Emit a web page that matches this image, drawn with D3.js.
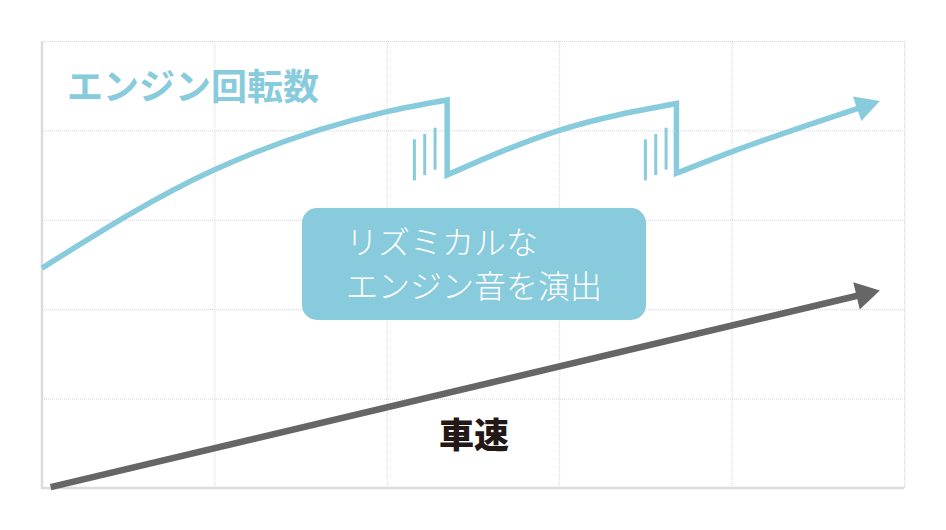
<!doctype html>
<html>
<head>
  <meta charset="utf8">
  <title>engine</title>
  <style>
    body {
      margin: 0;
      padding: 0;
      background: #fff;
    }
    svg { display: block; }
    text { font-family: "Noto Sans CJK JP", "Noto Sans", sans-serif; }
  </style>
</head>
<body>
  <svg></svg>

  <script src="https://d3js.org/d3.v7.min.js"></script>
  <script>
    // grid units: 5 columns x 5 rows
    const gridTicks = [0, 1, 2, 3, 4, 5]

    // engine revs, three pulls between gear shifts
    const engineGear1 = [[0, 2.46], [1.0, 3.56], [2.0, 4.21], [2.35, 4.34]]
    const engineGear2 = [[2.35, 3.5], [2.7, 3.79], [3.0, 4.0], [3.68, 4.3]]
    const engineGear3 = [[3.68, 3.52], [4.0, 3.76], [4.86, 4.33]]

    // vehicle speed, a straight climb
    const speed = [[0.05, 0.01], [4.86, 2.21]]

    // the little "shift" strokes next to each drop: [x, yBottom, yTop]
    const shiftMarks = [
      [2.16, 3.44, 3.9], [2.22, 3.5, 3.96], [2.28, 3.56, 4.03],
      [3.5, 3.44, 3.9], [3.56, 3.5, 3.96], [3.62, 3.56, 4.03]
    ]

    const titleLabel = 'エンジン回転数'
    const speedLabel = '車速'
    const noteLines = ['リズミカルな', 'エンジン音を演出']

    const width = 946
    const height = 530
    const margin = { top: 41, right: 42, bottom: 42, left: 42 }
    const blue = '#88cbdc'
    const grey = '#666666'

    const svg = d3.select('svg')
      .attr('width', width)
      .attr('height', height)

    const x = d3.scaleLinear().domain([0, 5]).range([margin.left, width - margin.right])
    const y = d3.scaleLinear().domain([0, 5]).range([height - margin.bottom, margin.top])

    // dotted grid from the axes
    svg.append('g')
      .attr('transform', `translate(0,${y(0)})`)
      .call(d3.axisBottom(x).tickValues(gridTicks).tickSize(-(y(0) - y(5))).tickFormat(''))
      .call(g => g.select('.domain').remove())
      .selectAll('line')
      .attr('stroke', '#d6d6d6')
      .attr('stroke-dasharray', '1,1')

    svg.append('g')
      .attr('transform', `translate(${x(0)},0)`)
      .call(d3.axisLeft(y).tickValues(gridTicks).tickSize(-(x(5) - x(0))).tickFormat(''))
      .call(g => g.select('.domain').remove())
      .selectAll('line')
      .attr('stroke', '#d6d6d6')
      .attr('stroke-dasharray', '1,1')

    // solid axis lines
    svg.append('line')
      .attr('x1', x(0)).attr('x2', x(0))
      .attr('y1', y(5)).attr('y2', y(0) + 1)
      .attr('stroke', '#dcdcdc').attr('stroke-width', 2.5)
    svg.append('line')
      .attr('x1', x(0) - 1).attr('x2', x(5))
      .attr('y1', y(0)).attr('y2', y(0))
      .attr('stroke', '#dcdcdc').attr('stroke-width', 2.5)

    const line = d3.line()
      .x(d => x(d[0]))
      .y(d => y(d[1]))
      .curve(d3.curveMonotoneX)

    // arrow head at the end of a polyline, drawn in pixel space
    function arrow (pts, color, len, half) {
      const a = pts[pts.length - 2]
      const b = pts[pts.length - 1]
      const dx = x(b[0]) - x(a[0])
      const dy = y(b[1]) - y(a[1])
      const n = Math.hypot(dx, dy)
      const ux = dx / n
      const uy = dy / n
      const tx = x(b[0])
      const ty = y(b[1])
      const bx = tx - ux * len
      const by = ty - uy * len
      svg.append('path')
        .attr('d', `M${tx},${ty}L${bx - uy * half},${by + ux * half}L${bx + uy * half},${by - ux * half}Z`)
        .attr('fill', color)
      return [x.invert(bx + ux * 2), y.invert(by + uy * 2)]
    }

    // engine revs: three pulls joined by vertical drops
    const endBase = arrow(engineGear3, blue, 24, 13)
    const gear3 = engineGear3.slice(0, -1).concat([endBase])

    const pathD = line(engineGear1) +
      'L' + x(engineGear2[0][0]) + ',' + y(engineGear2[0][1]) +
      line(engineGear2).replace(/^M/, 'L') +
      'L' + x(engineGear3[0][0]) + ',' + y(engineGear3[0][1]) +
      line(gear3).replace(/^M/, 'L')

    svg.append('path')
      .attr('d', pathD)
      .attr('fill', 'none')
      .attr('stroke', blue)
      .attr('stroke-width', 5.5)
      .attr('stroke-linejoin', 'miter')

    svg.selectAll('line.shift')
      .data(shiftMarks)
      .join('line')
      .attr('class', 'shift')
      .attr('x1', d => x(d[0])).attr('x2', d => x(d[0]))
      .attr('y1', d => y(d[1])).attr('y2', d => y(d[2]))
      .attr('stroke', blue)
      .attr('stroke-width', 3)

    // speed
    const speedBase = arrow(speed, grey, 24, 14)
    svg.append('path')
      .attr('d', line([speed[0], speedBase]))
      .attr('fill', 'none')
      .attr('stroke', grey)
      .attr('stroke-width', 6.5)

    // labels
    svg.append('text')
      .attr('x', 67)
      .attr('y', 100)
      .attr('fill', blue)
      .attr('font-size', 36)
      .attr('font-weight', 700)
      .text(titleLabel)

    svg.append('text')
      .attr('x', 439)
      .attr('y', 448)
      .attr('fill', '#231815')
      .attr('font-size', 35)
      .attr('font-weight', 900)
      .text(speedLabel)

    // callout box
    svg.append('rect')
      .attr('x', 302).attr('y', 208)
      .attr('width', 344).attr('height', 112)
      .attr('rx', 15)
      .attr('fill', blue)

    svg.append('g')
      .selectAll('text')
      .data(noteLines)
      .join('text')
      .attr('x', 346)
      .attr('y', (d, i) => 254 + i * 44)
      .attr('fill', '#fff')
      .attr('font-size', 32)
      .attr('font-weight', 300)
      .text(d => d)
  </script>
</body>
</html>
